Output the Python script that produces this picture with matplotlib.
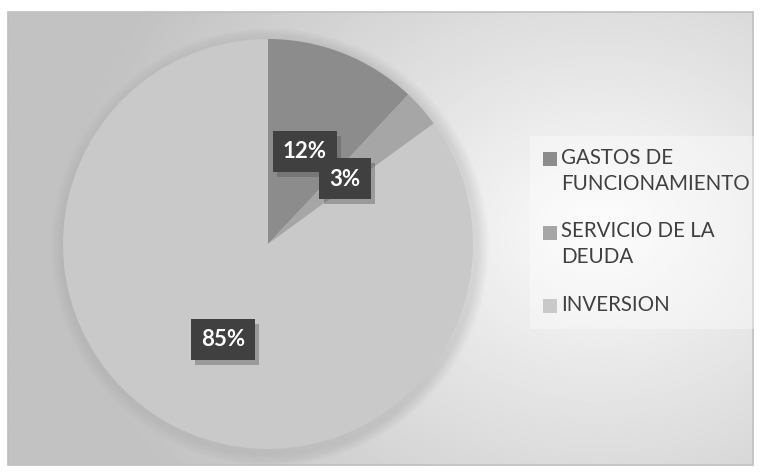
import matplotlib.pyplot as plt
import matplotlib.patches as mpatches
import matplotlib.patheffects as pe
import numpy as np

categories = ["GASTOS DE\nFUNCIONAMIENTO", "SERVICIO DE LA\nDEUDA", "INVERSION"]
values = [12, 3, 85]
colors = ["#8c8c8c", "#a6a6a6", "#c9c9c9"]

W, H = 762, 477
fig = plt.figure(figsize=(W / 100, H / 100), dpi=100)
ax = fig.add_axes([0, 0, 1, 1])

# radial background of the chart area
x0, x1, y0, y1 = 8, 753, H - 466, H - 13
gx, gy = np.meshgrid(np.linspace(x0, x1, 400), np.linspace(y0, y1, 250))
d = np.sqrt(((gx - 600) / 520) ** 2 + ((gy - (H - 230)) / 420) ** 2)
bg = np.clip(0.985 - 0.22 * d, 0.76, 0.985)
ax.imshow(bg, extent=[x0, x1, y0, y1], origin="lower", cmap="gray", vmin=0, vmax=1,
          aspect="auto", zorder=0)
ax.add_patch(mpatches.Rectangle((x0, y0), x1 - x0, y1 - y0, fill=False,
                                edgecolor="#bfbfbf", lw=1.2, zorder=1))

# soft shadow behind pie
cx, cy, r = 268, H - 245, 205
for k in range(12):
    ax.add_patch(mpatches.Circle((cx + 2, cy - 3), r + 14 - k, color="#9a9a9a",
                                 alpha=0.025, lw=0, zorder=1))

wedges, _ = ax.pie(values, colors=colors, startangle=90, counterclock=False,
                   center=(cx, cy), radius=r, frame=True,
                   wedgeprops=dict(linewidth=0, zorder=2))
ax.set_xlim(0, W)
ax.set_ylim(0, H)
ax.set_aspect("auto")
ax.axis("off")

# data labels
label_pos = [(305, H - 152), (345, H - 179), (223, H - 340)]
for v, (lx, ly) in zip(values, label_pos):
    t = ax.text(lx, ly, f"{v}%", fontsize=16, fontweight="bold", family="Lato",
                color="white", ha="center", va="center", zorder=4,
                bbox=dict(boxstyle="square,pad=0.45", fc="#404040", ec="none"))
    t.get_bbox_patch().set_path_effects([
        pe.SimplePatchShadow(offset=(3, -4), shadow_rgbFace="#555555", alpha=0.4),
        pe.Normal()])

# legend
ax.add_patch(mpatches.Rectangle((530, H - 330), 224, 193, color="white",
                                alpha=0.35, lw=0, zorder=1))
ly = H - 160
for cat, c in zip(categories, colors):
    ax.add_patch(mpatches.Rectangle((543, ly - 7), 14, 14, color=c, lw=0, zorder=3))
    ax.text(561, ly + 12, cat, fontsize=14.8, family="Lato", color="#404040",
            ha="left", va="top", linespacing=1.36, zorder=3)
    ly -= 73.5

fig.savefig("out.png", dpi=100)
